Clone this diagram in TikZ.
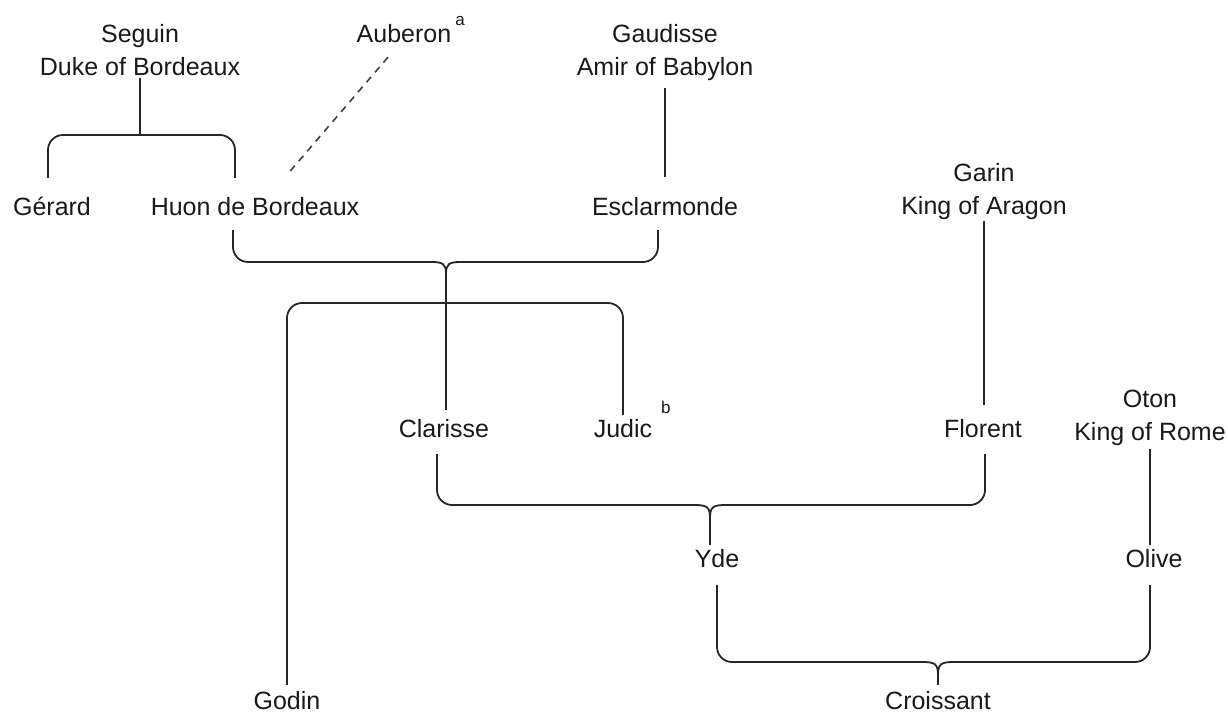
\documentclass[tikz,border=0pt]{standalone}
\usepackage{fontspec}
\setmainfont{Liberation Sans}
\begin{document}
\begin{tikzpicture}[x=1pt,y=-1pt,
  person/.style={font=\fontsize{25}{33}\selectfont, inner sep=0pt, text height=18pt, text depth=5pt, text=black!90},
  person2/.style={font=\fontsize{25}{33}\selectfont, inner sep=0pt, align=center, anchor=north, text=black!90},
  link/.style={draw=black!85, line width=1.8pt},
  spouse/.style={draw=black!85, line width=1.8pt, rounded corners=15pt},
  legend/.style={draw=black!75, line width=1.6pt, dash pattern=on 7pt off 6pt}]
\useasboundingbox (0,0) rectangle (1228,721);
\newcommand\supmark[2]{\rlap{\hspace{4pt}\raisebox{#2}{\fontsize{17}{17}\selectfont #1}}}
% people
\node[person2] (seguin) at (140,24) {Seguin\\Duke of Bordeaux};
\node[person] (auberon) at (404,35.5) {Auberon\supmark{a}{17pt}};
\node[person2] (gaudisse) at (665,24) {Gaudisse\\Amir of Babylon};
\node[person] (gerard) at (52,208.5) {Gérard};
\node[person] (huon) at (255,208.5) {Huon de Bordeaux};
\node[person] (esclarmonde) at (665,208.5) {Esclarmonde};
\node[person2] (garin) at (984,163) {Garin\\King of Aragon};
\node[person] (clarisse) at (444,430.5) {Clarisse};
\node[person] (judic) at (623,430.5) {Judic\supmark{\hspace{5pt}b}{24pt}};
\node[person] (florent) at (983,430.5) {Florent};
\node[person2] (oton) at (1150,390) {Oton\\King of Rome};
\node[person] (yde) at (717,560.5) {Yde};
\node[person] (olive) at (1154,560.5) {Olive};
\node[person] (godin) at (287,702.5) {Godin};
\node[person] (croissant) at (938,702.5) {Croissant};
% junctions
\coordinate (jA) at (140,135);
\coordinate (jB) at (446,262);
\coordinate (jC) at (446,303);
\coordinate (jD) at (710,505);
\coordinate (jE) at (938,662);
\coordinate (cB) at ([yshift=-12pt]jB);
\coordinate (cD) at ([yshift=-13pt]jD);
\coordinate (cE) at ([yshift=-13pt]jE);
% Seguin
\draw[link] ([yshift=-2pt]seguin.south) -- (jA);
\draw[spouse] ([xshift=-4pt,yshift=19pt]gerard.north) |- (jA) -| ([xshift=-20pt,yshift=19pt]huon.north);
% Auberon
\draw[legend] ([xshift=-16pt,yshift=-10pt]auberon.south) -- ([xshift=32pt,yshift=22pt]huon.north);
% Gaudisse
\draw[link] ([yshift=-7pt]gaudisse.south) -- ([yshift=20pt]esclarmonde.north);
% Huon + Esclarmonde
\draw[spouse] ([xshift=-22pt,yshift=-10pt]huon.south) |- ([xshift=-14pt]jB);
\draw[spouse] ([xshift=-7pt,yshift=-10pt]esclarmonde.south) |- ([xshift=14pt]jB);
\draw[link] ([xshift=-14.5pt]jB) .. controls ([xshift=-3pt]jB) and ([yshift=-2pt]jB) .. (cB)
  .. controls ([yshift=-2pt]jB) and ([xshift=3pt]jB) .. ([xshift=14.5pt]jB);
\draw[link] (cB) -- ([xshift=2pt,yshift=9pt]clarisse.north);
\draw[spouse] ([yshift=6pt]godin.north) |- (jC) -| ([yshift=4pt]judic.north);
% Garin
\draw[link] ([yshift=-1pt]garin.south) -- ([xshift=1pt,yshift=14pt]florent.north);
% Clarisse + Florent
\draw[spouse] ([xshift=-7pt,yshift=-12pt]clarisse.south) |- ([xshift=-15pt]jD);
\draw[spouse] ([xshift=2pt,yshift=-12pt]florent.south) |- ([xshift=15pt]jD);
\draw[link] ([xshift=-15.5pt]jD) .. controls ([xshift=-3pt]jD) and ([yshift=-2pt]jD) .. (cD)
  .. controls ([yshift=-2pt]jD) and ([xshift=3pt]jD) .. ([xshift=15.5pt]jD);
\draw[link] (cD) -- ([xshift=-7pt,yshift=4pt]yde.north);
% Oton
\draw[link] ([yshift=-3pt]oton.south) -- ([xshift=-4pt,yshift=4pt]olive.north);
% Yde + Olive
\draw[spouse] ([yshift=-13pt]yde.south) |- ([xshift=-15pt]jE);
\draw[spouse] ([xshift=-4pt,yshift=-13pt]olive.south) |- ([xshift=15pt]jE);
\draw[link] ([xshift=-15.5pt]jE) .. controls ([xshift=-3pt]jE) and ([yshift=-2pt]jE) .. (cE)
  .. controls ([yshift=-2pt]jE) and ([xshift=3pt]jE) .. ([xshift=15.5pt]jE);
\draw[link] (cE) -- ([yshift=6pt]croissant.north);
\end{tikzpicture}
\end{document}
